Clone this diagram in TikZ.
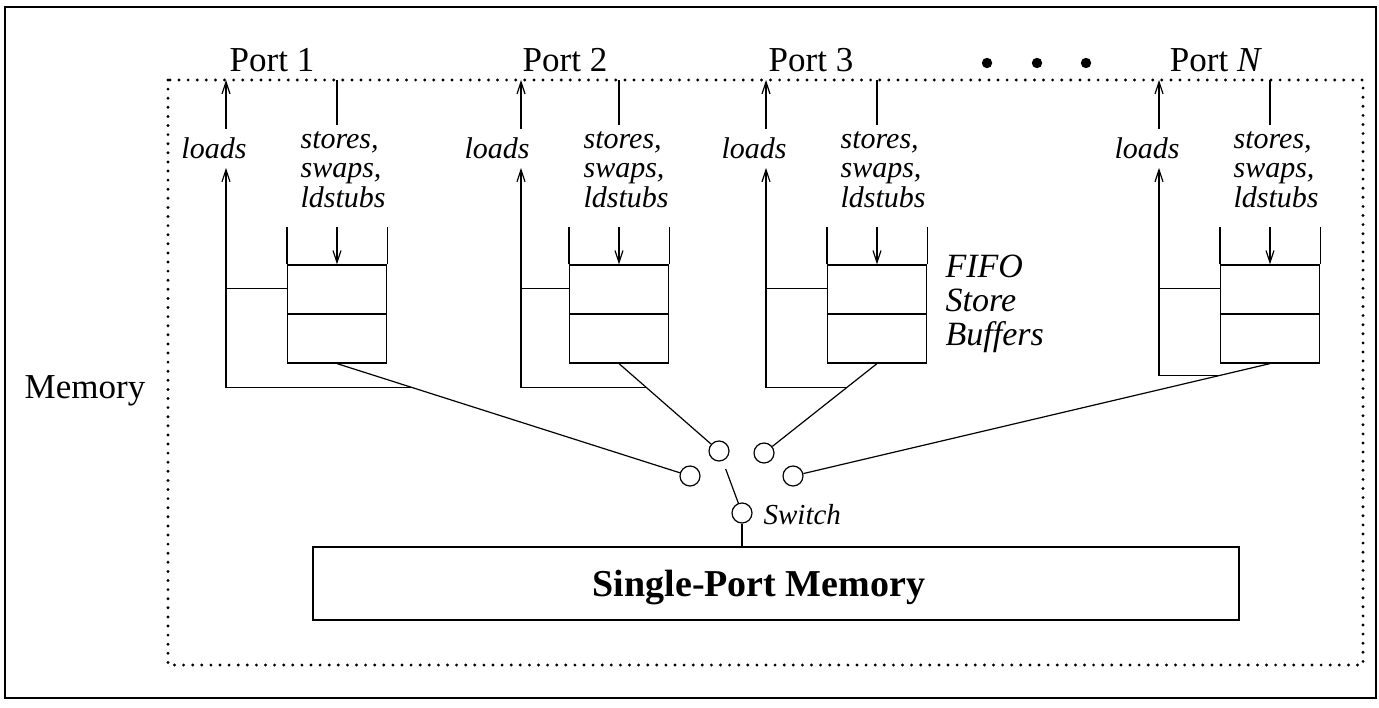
\documentclass[tikz,border=0pt]{standalone}
\usepackage{fontspec}
\setmainfont{Liberation Serif}
\usetikzlibrary{arrows.meta, calc}

\tikzset{
	feed/.style = {-{Straight Barb[length = 6pt, width = 4pt]}},
	memdots/.style = {line width = 1.6pt, line cap = round, dash pattern = on 0pt off 4.55pt},
	portlbl/.style = {anchor = base, inner sep = 0pt, font = \fontsize{17.5}{20}\selectfont},
	oplbl/.style = {inner sep = 0pt, font = \fontsize{15}{14.75}\selectfont\itshape},
	fifo/.style = {draw, minimum width = 49.5pt, minimum height = 49pt, inner sep = 0pt},
	pin/.style = {circle, draw, minimum size = 10pt, inner sep = 0pt},
}

\begin{document}
\begin{tikzpicture}[x = 0.5pt, y = -0.5pt, line width = 0.6pt]
	\useasboundingbox (0, 0) rectangle (1379, 707);
	\draw (5, 7) rectangle (1376, 698);
	\draw[memdots] (168, 80) rectangle (1363, 665);
	\node[anchor = base, inner sep = 0pt, font = \fontsize{17.5}{20}\selectfont] (memory) at (85, 398) {Memory};

	\node[pin] (c1) at (690, 476) {};
	\node[pin] (c2) at (719, 451) {};
	\node[pin] (c3) at (764, 453) {};
	\node[pin] (c4) at (793, 476) {};
	\node[pin] (sw) at (742, 513) {};
	\node[oplbl, anchor = base west, font = \fontsize{14.5}{16}\selectfont\itshape] (swlbl) at (763, 524) {Switch};
	\draw (sw) -- ($(sw)!0.71!(c2)$);

	\node[draw, minimum width = 463pt, minimum height = 36.5pt] (mem) at (776, 583.5) {};
	\node[anchor = base, inner sep = 0pt, font = \fontsize{19}{22}\selectfont\bfseries] (memlbl) at (759, 596) {Single-Port Memory};
	\draw (sw) -- (mem.north -| sw);

	\node[portlbl] (port1) at (272, 71) {Port 1};
	\node[oplbl, anchor = base] (loads1) at (214, 158) {loads};
	\node[oplbl, anchor = base west, align = left] (stores1) at (300, 207) {stores,\\swaps,\\ldstubs};
	\node[fifo] (fifo1) at (337, 314) {};
	\coordinate (out1) at (226, 80);
	\coordinate (in1) at (337, 80);
	\coordinate (j1) at ($(fifo1.south)!0.212!(c1)$);
	\coordinate (tap1) at ($(fifo1.north west) + (0, 24)$);
	\draw[feed, shorten <= 4pt] (loads1.north -| out1) -- (out1);
	\draw[feed, shorten >= 4.5pt] (j1) -| (loads1.south -| out1);
	\draw (tap1) -- (tap1 -| out1);
	\draw[shorten >= 3pt] (in1) -- (in1 |- stores1.north);
	\draw[feed] ($(fifo1.north) + (0, -37)$) -- (fifo1.north);
	\draw (fifo1.north west) -- ++(0, -37) (fifo1.north east) -- ++(0, -37);
	\draw[line width = 1.2pt] (fifo1.west) -- (fifo1.east);
	\draw (fifo1.south) -- (c1);

	\node[portlbl] (port2) at (565, 71) {Port 2};
	\node[oplbl, anchor = base] (loads2) at (497, 158) {loads};
	\node[oplbl, anchor = base west, align = left] (stores2) at (583, 207) {stores,\\swaps,\\ldstubs};
	\node[fifo] (fifo2) at (619, 314) {};
	\coordinate (out2) at (521, 80);
	\coordinate (in2) at (619, 80);
	\coordinate (j2) at ($(fifo2.south)!0.27!(c2)$);
	\coordinate (tap2) at ($(fifo2.north west) + (0, 24)$);
	\draw[feed, shorten <= 4pt] (loads2.north -| out2) -- (out2);
	\draw[feed, shorten >= 4.5pt] (j2) -| (loads2.south -| out2);
	\draw (tap2) -- (tap2 -| out2);
	\draw[shorten >= 3pt] (in2) -- (in2 |- stores2.north);
	\draw[feed] ($(fifo2.north) + (0, -37)$) -- (fifo2.north);
	\draw (fifo2.north west) -- ++(0, -37) (fifo2.north east) -- ++(0, -37);
	\draw[line width = 1.2pt] (fifo2.west) -- (fifo2.east);
	\draw (fifo2.south) -- (c2);

	\node[portlbl] (port3) at (811, 71) {Port 3};
	\node[oplbl, anchor = base] (loads3) at (754, 158) {loads};
	\node[oplbl, anchor = base west, align = left] (stores3) at (840, 207) {stores,\\swaps,\\ldstubs};
	\node[fifo] (fifo3) at (877, 314) {};
	\coordinate (out3) at (766, 80);
	\coordinate (in3) at (877, 80);
	\coordinate (j3) at ($(fifo3.south)!0.27!(c3)$);
	\coordinate (tap3) at ($(fifo3.north west) + (0, 24)$);
	\draw[feed, shorten <= 4pt] (loads3.north -| out3) -- (out3);
	\draw[feed, shorten >= 4.5pt] (j3) -| (loads3.south -| out3);
	\draw (tap3) -- (tap3 -| out3);
	\draw[shorten >= 3pt] (in3) -- (in3 |- stores3.north);
	\draw[feed] ($(fifo3.north) + (0, -37)$) -- (fifo3.north);
	\draw (fifo3.north west) -- ++(0, -37) (fifo3.north east) -- ++(0, -37);
	\draw[line width = 1.2pt] (fifo3.west) -- (fifo3.east);
	\draw (fifo3.south) -- (c3);
	\node[anchor = base west, align = left, inner sep = 0pt, font = \fontsize{17}{17}\selectfont\itshape] (fifolbl) at (945, 345) {FIFO\\Store\\Buffers};

	\fill (987, 63) circle (2.6pt);
	\fill (1037, 63) circle (2.6pt);
	\fill (1086, 63) circle (2.6pt);

	\node[portlbl] (portN) at (1216, 71) {Port \textit{N}};
	\node[oplbl, anchor = base] (loadsN) at (1147, 158) {loads};
	\node[oplbl, anchor = base west, align = left] (storesN) at (1233, 207) {stores,\\swaps,\\ldstubs};
	\node[fifo] (fifoN) at (1270, 314) {};
	\coordinate (outN) at (1159, 80);
	\coordinate (inN) at (1270, 80);
	\coordinate (jN) at ($(fifoN.south)!0.106!(c4)$);
	\coordinate (tapN) at ($(fifoN.north west) + (0, 24)$);
	\draw[feed, shorten <= 4pt] (loadsN.north -| outN) -- (outN);
	\draw[feed, shorten >= 4.5pt] (jN) -| (loadsN.south -| outN);
	\draw (tapN) -- (tapN -| outN);
	\draw[shorten >= 3pt] (inN) -- (inN |- storesN.north);
	\draw[feed] ($(fifoN.north) + (0, -37)$) -- (fifoN.north);
	\draw (fifoN.north west) -- ++(0, -37) (fifoN.north east) -- ++(0, -37);
	\draw[line width = 1.2pt] (fifoN.west) -- (fifoN.east);
	\draw (fifoN.south) -- (c4);
\end{tikzpicture}
\end{document}
